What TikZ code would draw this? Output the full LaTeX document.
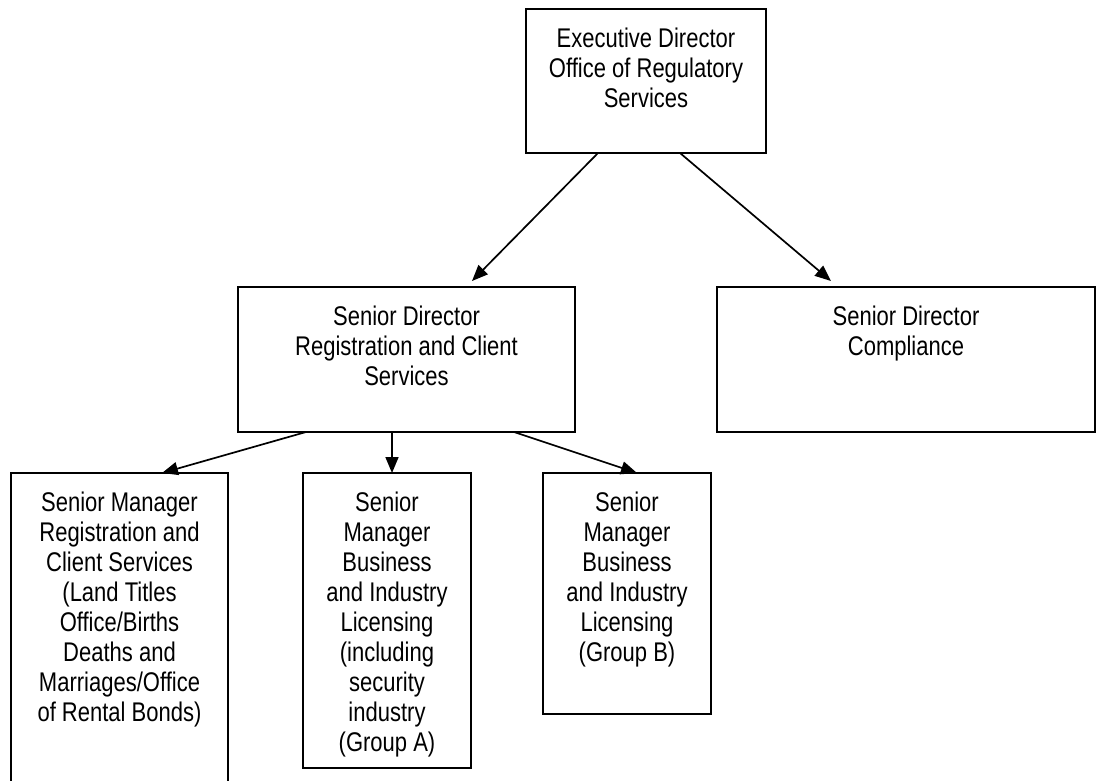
\documentclass[tikz,border=0pt]{standalone}
\usepackage{fontspec}
\setmainfont{Liberation Sans}[FakeStretch=0.815]
\usetikzlibrary{calc,arrows.meta}
\tikzset{
  box/.style={draw, line width=1.9pt, rectangle, inner sep=0pt, outer sep=0pt, anchor=north west},
  lbl/.style={anchor=north, yshift=-19pt, align=center, inner sep=0pt, font=\fontsize{27}{30}\selectfont},
  arr/.style={line width=1.7pt, -{Triangle[length=16pt,width=13pt]}}
}
\begin{document}
\begin{tikzpicture}[x=1pt,y=-1pt]
\clip (0,0) rectangle (1097,780);
\useasboundingbox (0,0) rectangle (1097,780);
\node[box, minimum width=240pt, minimum height=144pt,
  label={[lbl]north:{Executive Director\\Office of Regulatory\\Services}}] (top) at (526,9) {};
\node[box, minimum width=337pt, minimum height=145pt,
  label={[lbl]north:{Senior Director\\Registration and Client\\Services}}] (reg) at (238,287) {};
\node[box, minimum width=378pt, minimum height=145pt,
  label={[lbl]north:{Senior Director\\Compliance}}] (comp) at (717,287) {};
\node[box, minimum width=217pt, minimum height=330pt,
  label={[lbl]north:{Senior Manager\\Registration and\\Client Services\\(Land Titles\\Office/Births\\Deaths and\\Marriages/Office\\of Rental Bonds)}}] (sm1) at (11,473) {};
\node[box, minimum width=168pt, minimum height=295pt,
  label={[lbl]north:{Senior\\Manager\\Business\\and Industry\\Licensing\\(including\\security\\industry\\(Group A)}}] (sm2) at (303,473) {};
\node[box, minimum width=168pt, minimum height=241pt,
  label={[lbl]north:{Senior\\Manager\\Business\\and Industry\\Licensing\\(Group B)}}] (sm3) at (543,473) {};
\draw[arr] ($(top.south west)+(72,0)$) -- ($(reg.north west)+(234,-6)$);
\draw[arr] ($(top.south west)+(154,0)$) -- ($(comp.north west)+(114,-6)$);
\draw[arr] ($(reg.south west)+(68,0)$) -- ($(sm1.north west)+(151,0)$);
\draw[arr] ($(reg.south west)+(154,0)$) -- ($(sm2.north west)+(89,0)$);
\draw[arr] ($(reg.south west)+(276,0)$) -- ($(sm3.north west)+(94,0)$);
\end{tikzpicture}
\end{document}
